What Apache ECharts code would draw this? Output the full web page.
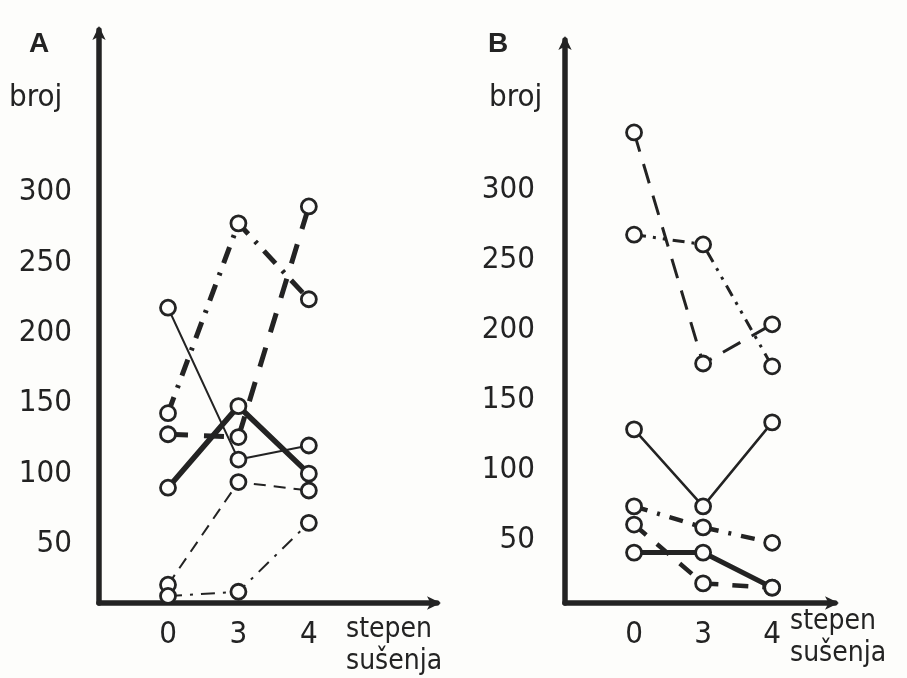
<!DOCTYPE html>
<html>
<head>
<meta charset="utf-8">
<script src="https://cdn.jsdelivr.net/npm/echarts@6/dist/echarts.min.js"></script>
<style>
html,body{margin:0;padding:0;background:#fdfdfb;}
#c{width:907px;height:678px;}
</style>
</head>
<body>
<div id="c"></div>
<script>
// categories (stepen sušenja) and tick labels
var categories = ['0', '3', '4'];
var yTicks = [50, 100, 150, 200, 250, 300];

// Panel A series values (broj)
var a_thickDashDot = [143, 278, 224];
var a_thickDashed  = [128, 126, 290];
var a_thinSolid    = [218, 110, 120];
var a_thickSolid   = [90, 148, 100];
var a_thinDashed   = [21, 94, 88];
var a_thinDashDot  = [13, 16, 65];

// Panel B series values (broj)
var b_longDashed   = [341, 176, 204];
var b_dashDotDot   = [268, 261, 174];
var b_thinSolid    = [129, 74, 134];
var b_thickDashDot = [74, 59, 48];
var b_thickSolid   = [41, 41, 16];
var b_thickDashed  = [61, 19, 16];

var INK = '#232323';
var FONT = '"Liberation Sans Narrow","DejaVu Sans Condensed","Liberation Sans",sans-serif';

function pts(arr){ return arr.map(function(v,i){ return [i, v]; }); }

function mk(name, data, idx, width, type){
  return {
    name: name, type: 'line', xAxisIndex: idx, yAxisIndex: idx,
    data: pts(data),
    symbol: 'circle', symbolSize: 15,
    itemStyle: {color: '#fdfdfb', borderColor: INK, borderWidth: 2.8},
    lineStyle: {color: INK, width: width, type: type, cap: 'butt'},
    z: 3, silent: true, animation: false
  };
}

function xAxis(idx, min, max){
  return {
    type: 'value', gridIndex: idx, min: min, max: max,
    splitLine: {show: false},
    axisLine: {show: true, onZero: false, lineStyle: {color: INK, width: 5.5}, symbol: ['none', 'arrow'], symbolSize: [10, 14], symbolOffset: [0, 4]},
    axisTick: {show: false},
    axisLabel: {
      customValues: [0, 1, 2], margin: 16,
      formatter: function(v){ return categories[Math.round(v)]; },
      color: INK, fontSize: 31, fontFamily: FONT
    }
  };
}
function yAxis(idx, min, max, margin){
  return {
    type: 'value', gridIndex: idx, min: min, max: max,
    splitLine: {show: false},
    axisLine: {show: true, onZero: false, lineStyle: {color: INK, width: 5.5}, symbol: ['none', 'arrow'], symbolSize: [10, 14], symbolOffset: [0, 4]},
    axisTick: {show: false},
    axisLabel: {customValues: yTicks, margin: margin, color: INK, fontSize: 31, fontFamily: FONT}
  };
}

var chart = echarts.init(document.getElementById('c'), null, {renderer: 'canvas'});
chart.setOption({
  backgroundColor: '#fdfdfb',
  animation: false,
  grid: [
    {left: 99, top: 30, width: 338, height: 573},
    {left: 565, top: 40, width: 270, height: 563}
  ],
  xAxis: [xAxis(0, -0.98, 3.82), xAxis(1, -1.0, 2.91)],
  yAxis: [yAxis(0, 8, 415.5, 27), yAxis(1, 5, 407, 30)],
  series: [
    mk('A1', a_thickDashDot, 0, 5, [17, 10, 3, 10]),
    mk('A2', a_thickDashed, 0, 5, [20, 16]),
    mk('A3', a_thinSolid, 0, 2, 'solid'),
    mk('A4', a_thickSolid, 0, 5.5, 'solid'),
    mk('A5', a_thinDashed, 0, 2, [12, 8]),
    mk('A6', a_thinDashDot, 0, 2, [14, 8, 3, 8]),
    mk('B1', b_longDashed, 1, 3, [20, 13]),
    mk('B2', b_dashDotDot, 1, 3, [12, 7, 3, 7, 3, 7]),
    mk('B3', b_thinSolid, 1, 2.5, 'solid'),
    mk('B4', b_thickDashDot, 1, 4.5, [14, 10, 3, 10]),
    mk('B5', b_thickSolid, 1, 5, 'solid'),
    mk('B6', b_thickDashed, 1, 4.5, [16, 14])
  ],
  graphic: [
    {type: 'text', left: 29, top: 30, style: {text: 'A', fontSize: 28, fontWeight: 'bold', fill: INK, fontFamily: '"Liberation Sans",sans-serif'}},
    {type: 'text', left: 488, top: 30, style: {text: 'B', fontSize: 28, fontWeight: 'bold', fill: INK, fontFamily: '"Liberation Sans",sans-serif'}},
    {type: 'text', left: 9, top: 82, style: {text: 'broj', fontSize: 31, fill: INK, fontFamily: FONT}},
    {type: 'text', left: 489, top: 82, style: {text: 'broj', fontSize: 31, fill: INK, fontFamily: FONT}},
    {type: 'text', left: 346, top: 616, style: {text: 'stepen', fontSize: 28, fill: INK, fontFamily: FONT}},
    {type: 'text', left: 346, top: 648, style: {text: 'sušenja', fontSize: 28, fill: INK, fontFamily: FONT}},
    {type: 'text', left: 790, top: 608, style: {text: 'stepen', fontSize: 28, fill: INK, fontFamily: FONT}},
    {type: 'text', left: 790, top: 640, style: {text: 'sušenja', fontSize: 28, fill: INK, fontFamily: FONT}}
  ]
});
</script>
</body>
</html>
